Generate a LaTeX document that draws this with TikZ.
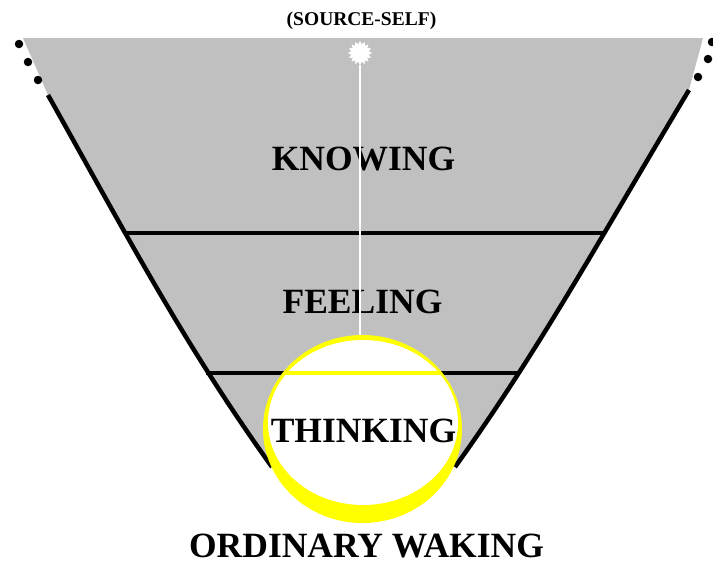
\documentclass[tikz,border=0pt]{standalone}
\usepackage{fontspec}
\setmainfont{Liberation Serif}
\usepackage{xcolor}
\usepackage{tikz}
\usetikzlibrary{shapes.geometric}
\definecolor{funnelgray}{RGB}{192,192,192}
\definecolor{haloyellow}{RGB}{255,255,0}

\begin{document}
\begin{tikzpicture}[
  x=1pt, y=-1pt,
  level/.style={font=\fontsize{35.5}{40}\selectfont\bfseries,anchor=base,inner sep=0pt},
  rim/.style={line width=4.5pt,black},
  dot/.style={circle,fill=black,inner sep=0pt,minimum size=8.5pt}
]
  \useasboundingbox (0,0) rectangle (713,566);

  % funnel
  \coordinate (ltop) at (48,95);
  \coordinate (lbot) at (272,467);
  \coordinate (rtop) at (689,90);
  \coordinate (rbot) at (455,467);
  \fill[funnelgray] (23,38) -- (703,38) -- (rtop)
    .. controls (599,240) and (541,347) .. (rbot) -- (lbot)
    .. controls (186,347) and (132,245) .. (ltop) -- cycle;
  \draw[rim] (127,233) -- (603,233);
  \draw[rim] (206,373) -- (520,373);
  \draw[rim] (ltop) .. controls (132,245) and (186,347) .. (lbot);
  \draw[rim] (rtop) .. controls (599,240) and (541,347) .. (rbot);
  \node[dot] (ldot1) at (19,44) {};
  \node[dot] (ldot2) at (28,62) {};
  \node[dot] (ldot3) at (38,80) {};
  \node[dot] (rdot1) at (712,42) {};
  \node[dot] (rdot2) at (708,59) {};
  \node[dot] (rdot3) at (698,77) {};

  \node[level] (knowing) at (363.5,170) {KNOWING};
  \node[level] (feeling) at (362.5,313) {FEELING};

  % source and ordinary waking
  \node[ellipse,fill=haloyellow,inner sep=0pt,minimum width=199pt,minimum height=188pt]
    (halo) at (362.5,429) {};
  \node[star,star points=16,star point ratio=1.35,fill=white,inner sep=0pt,minimum size=24pt]
    (spark) at (360,53) {};
  \draw[white,line width=2.2pt] (spark) -- (spark |- halo.north);
  \node[ellipse,fill=white,inner sep=0pt,minimum width=190pt,minimum height=165pt]
    (inner) at (363,422.5) {};
  \begin{scope}
    \clip (362.5,429) ellipse [x radius=99.5, y radius=94];
    \draw[haloyellow,line width=3.5pt] (250,373) -- (470,373);
  \end{scope}
  \node[level] (thinking) at (363.5,442) {THINKING};

  \node[level] (waking) at (366.5,557) {ORDINARY WAKING};
  \node[font=\fontsize{19.5}{22}\selectfont\bfseries,anchor=base,inner sep=0pt]
    (source) at (361.5,25) {(SOURCE-SELF)};
\end{tikzpicture}
\end{document}
